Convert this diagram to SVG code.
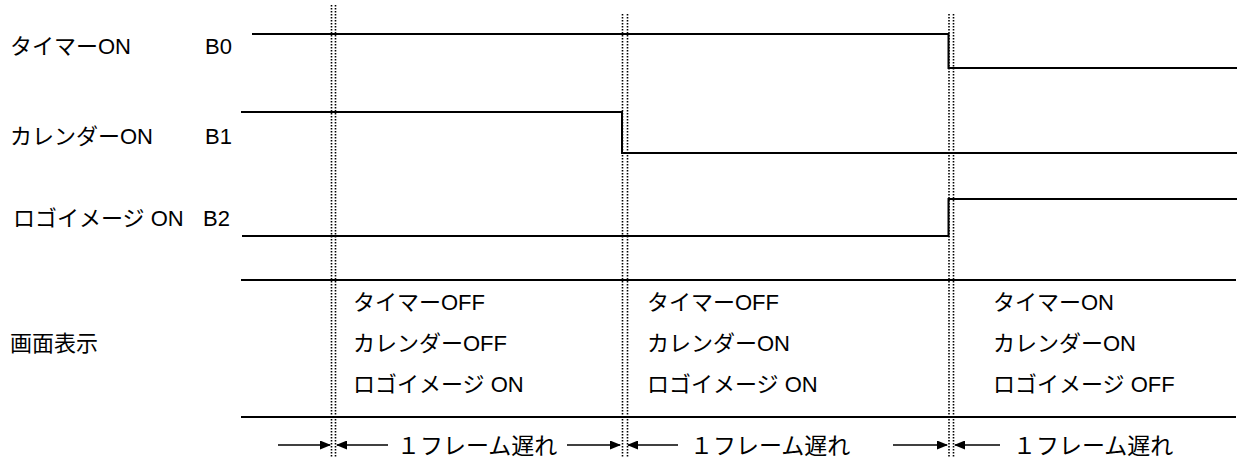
<svg xmlns="http://www.w3.org/2000/svg" width="1237" height="457" viewBox="0 0 1237 457">
<style>
text{font-family:"Liberation Sans","Noto Sans CJK JP",sans-serif;font-size:22px;fill:#000}
.fl{font-size:23px}
.sig{fill:none;stroke:#000;stroke-width:2}
.rule{stroke:#000;stroke-width:2}
.dot{stroke:#000;stroke-width:1.6;stroke-dasharray:1.5 1.5}
.arr{stroke:#000;stroke-width:1.6}
</style>
<defs>
<marker id="ah" markerWidth="11" markerHeight="9" refX="10" refY="4.5" orient="auto" markerUnits="userSpaceOnUse">
<path d="M0,0 L11,4.5 L0,9 Z" fill="#000"/>
</marker>
</defs>
<g id="labels">
<g id="row-b0"><text x="10" y="54">タイマーON</text><text x="205" y="54">B0</text></g>
<g id="row-b1"><text x="10" y="144">カレンダーON</text><text x="205" y="144">B1</text></g>
<g id="row-b2"><text x="13" y="226">ロゴイメージ ON</text><text x="203" y="226">B2</text></g>
<g id="row-disp"><text x="10" y="351">画面表示</text></g>
</g>
<g id="grid">
<line class="dot" x1="331.5" y1="5" x2="331.5" y2="457"/>
<line class="dot" x1="335.5" y1="5" x2="335.5" y2="457"/>
<line class="dot" x1="622.5" y1="14" x2="622.5" y2="457"/>
<line class="dot" x1="627.5" y1="14" x2="627.5" y2="457"/>
<line class="dot" x1="949" y1="14" x2="949" y2="457"/>
<line class="dot" x1="953.5" y1="14" x2="953.5" y2="457"/>
<line class="rule" x1="241" y1="280" x2="1236" y2="280"/>
<line class="rule" x1="241" y1="417" x2="1236" y2="417"/>
</g>
<g id="signals">
<polyline id="sig-b0" class="sig" points="252,34 948.5,34 948.5,68 1237,68"/>
<polyline id="sig-b1" class="sig" points="241,112 622,112 622,153 1237,153"/>
<polyline id="sig-b2" class="sig" points="242,236 948.5,236 948.5,199 1237,199"/>
</g>
<g id="col1"><text x="353" y="310">タイマーOFF</text><text x="353" y="351">カレンダーOFF</text><text x="353" y="392">ロゴイメージ ON</text></g>
<g id="col2"><text x="647" y="310">タイマーOFF</text><text x="647" y="351">カレンダーON</text><text x="647" y="392">ロゴイメージ ON</text></g>
<g id="col3"><text x="993" y="310">タイマーON</text><text x="993" y="351">カレンダーON</text><text x="993" y="392">ロゴイメージ OFF</text></g>
<g id="connectors">
<line class="arr" x1="278" y1="445" x2="330" y2="445" marker-end="url(#ah)"/>
<line class="arr" x1="388" y1="445" x2="337" y2="445" marker-end="url(#ah)"/>
<line class="arr" x1="567" y1="445" x2="620" y2="445" marker-end="url(#ah)"/>
<line class="arr" x1="678" y1="445" x2="628" y2="445" marker-end="url(#ah)"/>
<line class="arr" x1="893" y1="445" x2="947" y2="445" marker-end="url(#ah)"/>
<line class="arr" x1="1000" y1="445" x2="955" y2="445" marker-end="url(#ah)"/>
</g>
<g id="frame-labels">
<text class="fl" x="397" y="454">１フレーム遅れ</text>
<text class="fl" x="690" y="454">１フレーム遅れ</text>
<text class="fl" x="1013" y="454">１フレーム遅れ</text>
</g>
</svg>
